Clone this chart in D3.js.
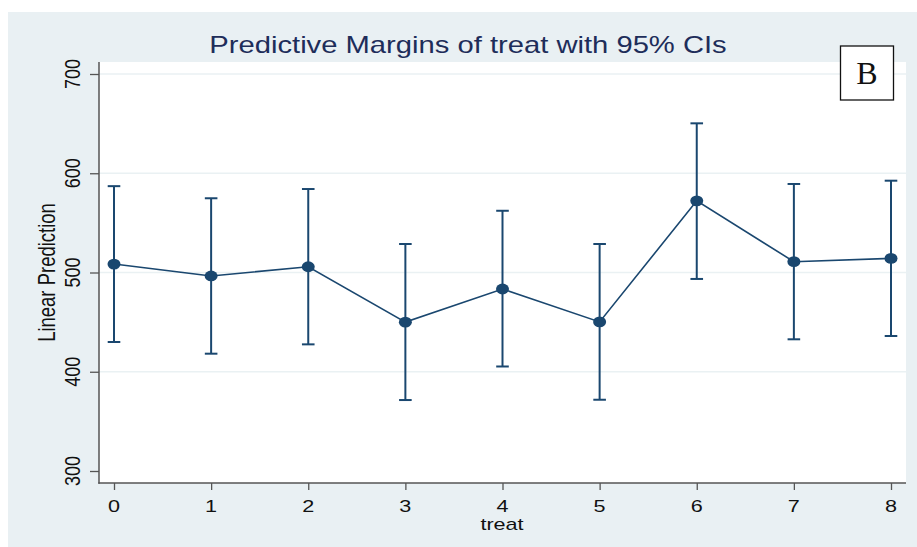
<!DOCTYPE html>
<html>
<head>
<meta charset="utf-8">
<script src="https://cdn.jsdelivr.net/npm/d3@7"></script>
<style>
  html, body { margin: 0; padding: 0; background: #ffffff; }
  svg { display: block; }
</style>
</head>
<body>
<svg id="chart" width="917" height="547"></svg>
<script>
// Predictive margins of treat, with 95% confidence intervals
const treat = [0, 1, 2, 3, 4, 5, 6, 7, 8];
const margin = [508.5, 496.5, 505.8, 450.0, 483.4, 450.2, 572.2, 510.9, 514.2];
const ciLow  = [430.0, 418.2, 427.6, 371.5, 405.3, 371.8, 493.5, 432.7, 436.0];
const ciHigh = [587.0, 574.8, 584.1, 528.7, 562.2, 528.7, 650.3, 589.2, 592.5];
const yTicks = [300, 400, 500, 600, 700];
const gridValues = [400, 500, 600, 700];

const titleText = "Predictive Margins of treat with 95% CIs";
const xTitle = "treat";
const yTitle = "Linear Prediction";
const panelLabel = "B";

const navy = "#1a476f";
const bg = "#e9f0f3";
const sx = 1.27; // horizontal stretch of the lettering

const svg = d3.select("#chart");

// outer graph region
svg.append("rect").attr("x", 8).attr("y", 12).attr("width", 909).attr("height", 535).attr("fill", bg);

// plot region
const plot = { left: 99, right: 906, top: 62, bottom: 483 };
svg.append("rect")
  .attr("x", plot.left).attr("y", plot.top)
  .attr("width", plot.right - plot.left).attr("height", plot.bottom - plot.top)
  .attr("fill", "#ffffff");

const x = d3.scaleLinear().domain([0, 8]).range([114, 891]);
const y = d3.scaleLinear().domain([300, 700]).range([471, 74]);

// grid lines
svg.append("g").selectAll("line").data(gridValues).join("line")
  .attr("x1", plot.left).attr("x2", plot.right)
  .attr("y1", d => y(d)).attr("y2", d => y(d))
  .attr("stroke", "#eaf1f3").attr("stroke-width", 1.6);

function stretchedText(g, tx, ty, rot, txt, size, anchor, color, family) {
  const t = g.append("text")
    .attr("transform", `translate(${tx},${ty}) scale(${sx},1)` + (rot ? ` rotate(${rot})` : ""))
    .attr("text-anchor", anchor)
    .attr("font-family", family || "'Liberation Sans', Arial, sans-serif")
    .attr("font-size", size)
    .attr("fill", color)
    .text(txt);
  return t;
}

// y axis
const yAxis = d3.axisLeft(y).tickValues(yTicks).tickSize(9).tickSizeOuter(0).tickFormat("");
const gy = svg.append("g").attr("transform", `translate(${plot.left},0)`).call(yAxis);
gy.select(".domain").remove();
gy.selectAll(".tick line").attr("stroke", "#555").attr("stroke-width", 1.3);
svg.append("line").attr("x1", plot.left).attr("x2", plot.left)
  .attr("y1", plot.top).attr("y2", plot.bottom + 0.7)
  .attr("stroke", "#555").attr("stroke-width", 1.5);
yTicks.forEach(v => stretchedText(svg, 80, y(v), -90, String(v), 18, "middle", "#111"));

// x axis
const xAxis = d3.axisBottom(x).tickValues(treat).tickSize(7).tickSizeOuter(0).tickFormat("");
const gx = svg.append("g").attr("transform", `translate(0,${plot.bottom})`).call(xAxis);
gx.select(".domain").remove();
gx.selectAll(".tick line").attr("stroke", "#555").attr("stroke-width", 1.3);
svg.append("line").attr("x1", plot.left - 0.7).attr("x2", plot.right)
  .attr("y1", plot.bottom).attr("y2", plot.bottom)
  .attr("stroke", "#555").attr("stroke-width", 1.5);
treat.forEach(v => stretchedText(svg, x(v), 512, 0, String(v), 17, "middle", "#111"));

// axis titles
stretchedText(svg, 502, 530, 0, xTitle, 17, "middle", "#111");
stretchedText(svg, 54.5, y(500), -90, yTitle, 18.5, "middle", "#111");

// title
stretchedText(svg, 468, 53, 0, titleText, 23, "middle", "#1e2d5a");

// confidence interval bars
const rows = treat.map((t, i) => ({ t, m: margin[i], lo: ciLow[i], hi: ciHigh[i] }));
const ci = svg.append("g").attr("stroke", navy).attr("stroke-width", 2).attr("fill", "none");
ci.selectAll("line.v").data(rows).join("line").attr("class", "v")
  .attr("x1", d => x(d.t)).attr("x2", d => x(d.t))
  .attr("y1", d => y(d.lo)).attr("y2", d => y(d.hi));
ci.selectAll("line.hi").data(rows).join("line").attr("class", "hi")
  .attr("x1", d => x(d.t) - 6.3).attr("x2", d => x(d.t) + 6.3)
  .attr("y1", d => y(d.hi)).attr("y2", d => y(d.hi));
ci.selectAll("line.lo").data(rows).join("line").attr("class", "lo")
  .attr("x1", d => x(d.t) - 6.3).attr("x2", d => x(d.t) + 6.3)
  .attr("y1", d => y(d.lo)).attr("y2", d => y(d.lo));

// connecting line
svg.append("path").datum(rows)
  .attr("d", d3.line().x(d => x(d.t)).y(d => y(d.m)))
  .attr("fill", "none").attr("stroke", navy).attr("stroke-width", 1.6);

// markers
svg.append("g").selectAll("ellipse").data(rows).join("ellipse")
  .attr("cx", d => x(d.t)).attr("cy", d => y(d.m))
  .attr("rx", 6.5).attr("ry", 5.4).attr("fill", navy);

// panel label box
svg.append("rect").attr("x", 840.5).attr("y", 46).attr("width", 53).attr("height", 54)
  .attr("fill", "#ffffff").attr("stroke", "#111").attr("stroke-width", 1.3);
svg.append("text").attr("x", 867).attr("y", 83.5).attr("text-anchor", "middle")
  .attr("font-family", "'Liberation Serif', 'Times New Roman', serif")
  .attr("font-size", 32).attr("fill", "#111").text(panelLabel);
</script>
</body>
</html>
